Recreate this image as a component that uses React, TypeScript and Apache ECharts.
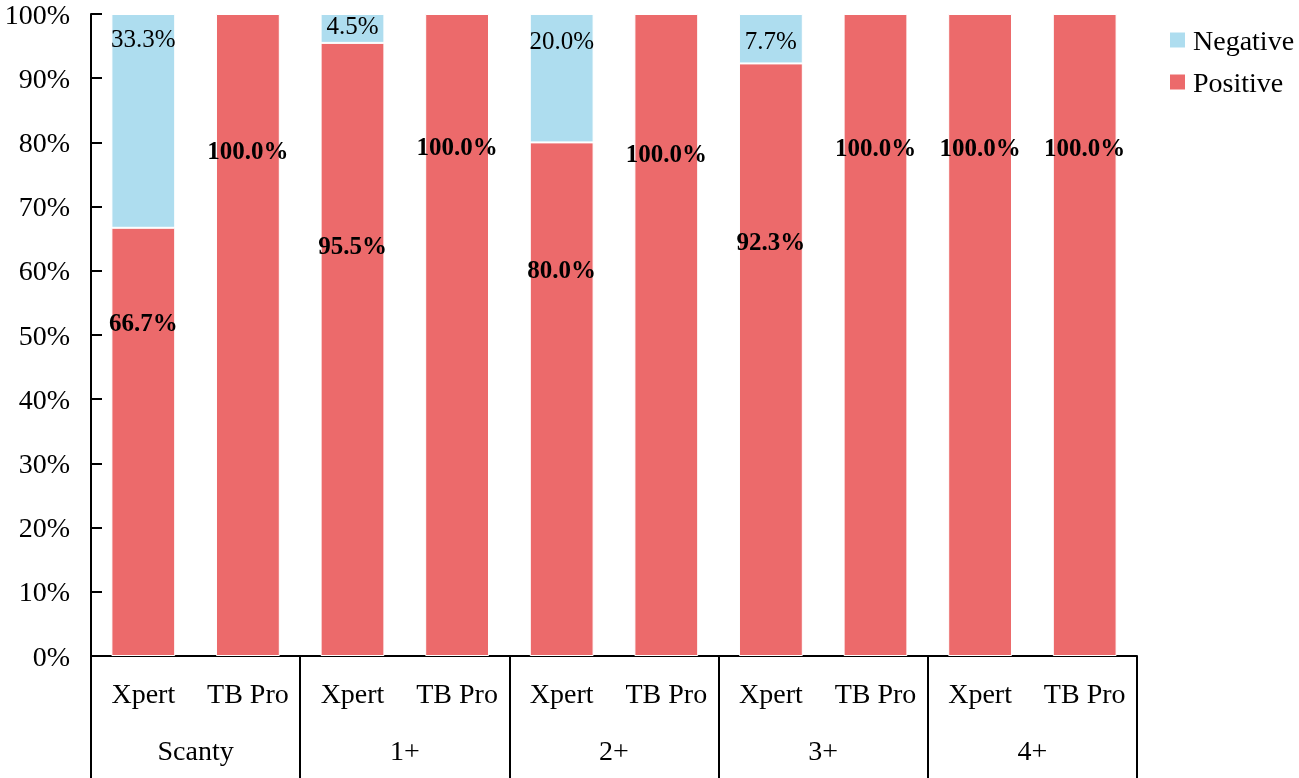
import React, { useEffect, useRef } from "react";
import * as echarts from "echarts";

const groups = ["Scanty", "1+", "2+", "3+", "4+"];
const methods = ["Xpert", "TB Pro"];
const categories = groups.flatMap(() => methods);
const positive = [66.7, 100.0, 95.5, 100.0, 80.0, 100.0, 92.3, 100.0, 100.0, 100.0];
const negative = [33.3, 0, 4.5, 0, 20.0, 0, 7.7, 0, 0, 0];
const yTicks = [0, 10, 20, 30, 40, 50, 60, 70, 80, 90, 100];

// label placement (pixels below the top of each segment)
const POS_LABEL_OFFSET = [77, 119, 185, 115, 110, 122, 161, 116, 116, 116];
const NEG_LABEL_OFFSET = [7, 0, -6, 0, 9, 0, 9, 0, 0, 0];

const FONT = '"Liberation Serif", "Times New Roman", serif';
const RED = "#EC6A6B";
const BLUE = "#AEDDEF";

export default function App() {
  const ref = useRef<HTMLDivElement>(null);
  useEffect(() => {
    if (!ref.current) return;
    const chart = echarts.init(ref.current, undefined, { renderer: "svg" });
    const fmt = (p: any) => (p.value ? Number(p.value).toFixed(1) + "%" : "");
    chart.setOption({
      animation: false,
      textStyle: { fontFamily: FONT, color: "#000" },
      grid: { left: 91, right: 162, top: 13, bottom: 122, containLabel: false },
      legend: {
        orient: "vertical",
        left: 1163,
        top: 21,
        itemWidth: 17,
        itemHeight: 17,
        itemGap: 14,
        icon: "rect",
        data: ["Negative", "Positive"],
        textStyle: { fontFamily: FONT, fontSize: 28, color: "#000", padding: [0, 0, 0, 2] },
      },
      xAxis: [
        {
          type: "category",
          data: categories,
          position: "bottom",
          axisLine: { show: false },
          axisTick: { show: false },
          axisLabel: { interval: 0, margin: 23, fontSize: 28, color: "#000", fontFamily: FONT },
        },
        {
          type: "category",
          data: groups,
          position: "bottom",
          axisLine: { show: true, lineStyle: { color: "#000", width: 2 } },
          axisTick: { show: true, interval: 0, length: 122, lineStyle: { color: "#000", width: 2 } },
          axisLabel: { interval: 0, margin: 80, fontSize: 28, color: "#000", fontFamily: FONT },
        },
      ],
      yAxis: {
        type: "value",
        min: yTicks[0],
        max: yTicks[yTicks.length - 1],
        interval: 10,
        axisLine: { show: true, lineStyle: { color: "#000", width: 2 } },
        axisTick: { show: true, inside: true, length: 11, lineStyle: { color: "#000", width: 2 } },
        axisLabel: { formatter: "{value}%", margin: 21, fontSize: 28, color: "#000", fontFamily: FONT },
        splitLine: { show: false },
      },
      series: [
        {
          name: "Positive",
          type: "bar",
          stack: "total",
          xAxisIndex: 0,
          barCategoryGap: "39%",
          itemStyle: { color: RED, borderColor: "#fff", borderWidth: 1 },
          data: positive.map((v, i) => ({
            value: v,
            label: {
              show: true,
              position: "insideTop",
              offset: [0, POS_LABEL_OFFSET[i]],
              formatter: fmt,
              fontSize: 25,
              fontWeight: "bold",
              color: "#000",
              fontFamily: FONT,
            },
          })),
        },
        {
          name: "Negative",
          type: "bar",
          stack: "total",
          xAxisIndex: 0,
          barCategoryGap: "39%",
          itemStyle: { color: BLUE, borderColor: "#fff", borderWidth: 1 },
          data: negative.map((v, i) =>
            v
              ? {
                  value: v,
                  label: {
                    show: true,
                    position: "insideTop",
                    offset: [0, NEG_LABEL_OFFSET[i]],
                    formatter: fmt,
                    fontSize: 25,
                    color: "#000",
                    fontFamily: FONT,
                  },
                }
              : "-"
          ),
        },
      ],
    });
    return () => chart.dispose();
  }, []);
  return <div ref={ref} style={{ position: "fixed", left: 0, top: 0, width: 1299, height: 778 }} />;
}
